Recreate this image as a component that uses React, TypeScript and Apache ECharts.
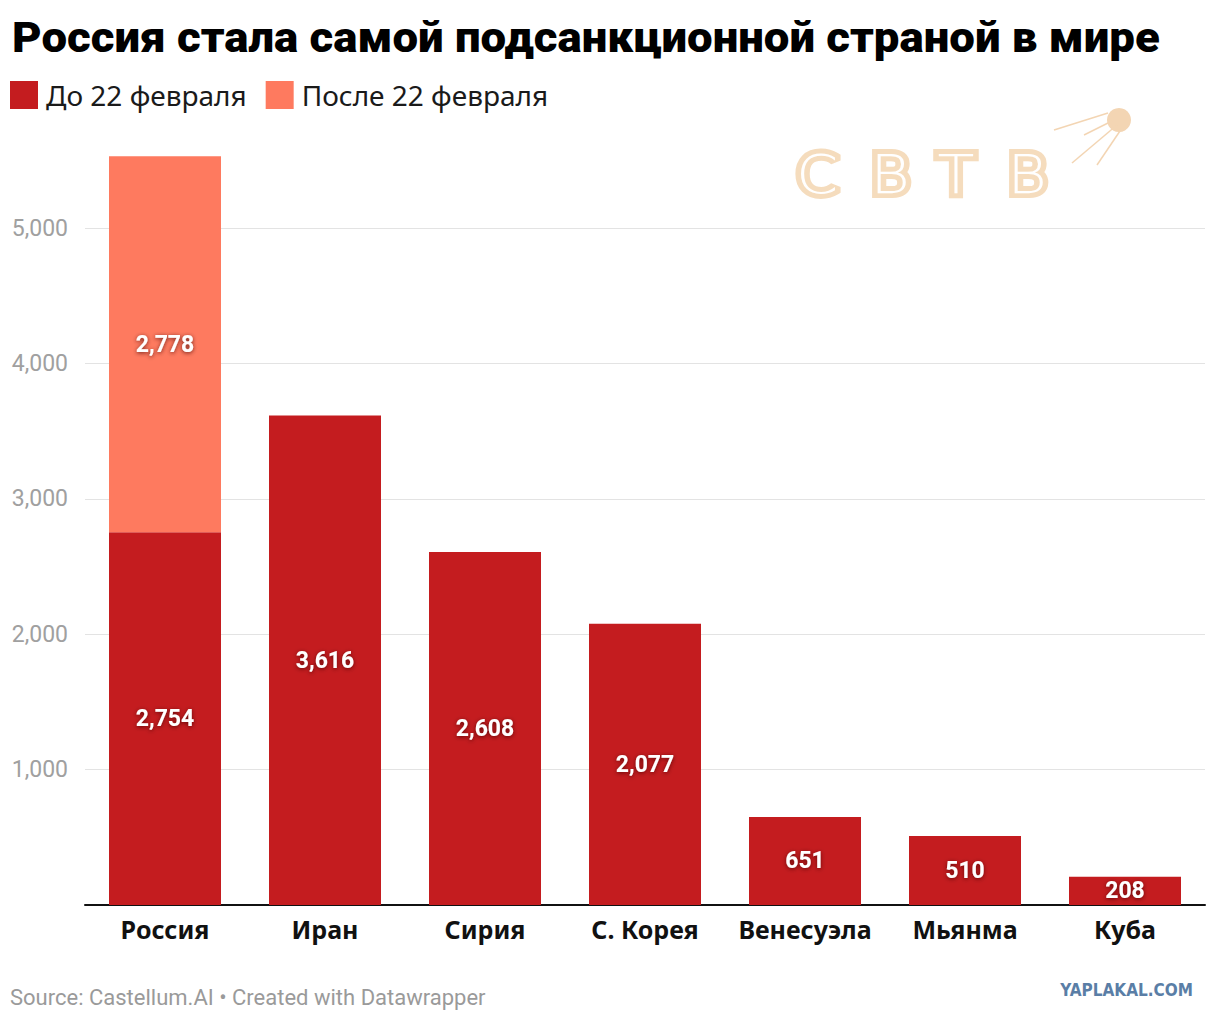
import React, { useEffect, useRef } from "react";
import * as echarts from "echarts";

const categories = ["Россия", "Иран", "Сирия", "С. Корея", "Венесуэла", "Мьянма", "Куба"];
const beforeValues = [2754, 3616, 2608, 2077, 651, 510, 208];
const afterValues: (number | string)[] = [2778, "-", "-", "-", "-", "-", "-"];
const legendNames = ["До 22 февраля", "После 22 февраля"];
const titleText = "Россия стала самой подсанкционной страной в мире";
const sourceText = "Source: Castellum.AI • Created with Datawrapper";
const siteText = "YAPLAKAL.COM";
const logoLetters = ["С", "В", "Т", "В"];

const DARK = "#c41c1f";
const LIGHT = "#fe7a5f";
const BEIGE = "#f5dcbd";

const fmt = (v: number) => Number(v).toLocaleString("en-US");

const valueLabel = {
  show: true,
  position: "inside",
  color: "#ffffff",
  fontSize: 23,
  fontWeight: "bold",
  fontFamily: "Roboto",
  textShadowColor: "rgba(60,0,0,0.75)",
  textShadowBlur: 4,
  textShadowOffsetY: 1,
  formatter: (p: any) => fmt(p.value),
};

const logoCenters = [817, 890, 956, 1027];

function buildGraphic() {
  const g: any[] = [];
  g.push({
    type: "text",
    x: 12,
    y: 38,
    scaleX: 1.085,
    style: {
      text: titleText,
      fontFamily: "Roboto",
      fontWeight: 900,
      fontSize: 42,
      fill: "#000",
      textVerticalAlign: "middle",
    },
  });
  g.push({
    type: "text",
    x: 10,
    y: 997,
    style: {
      text: sourceText,
      fontFamily: "Roboto",
      fontSize: 22,
      fill: "#9a9a9a",
      textVerticalAlign: "middle",
    },
  });
  g.push({
    type: "text",
    x: 1193,
    y: 990,
    style: {
      text: siteText,
      fontFamily: "Liberation Sans Narrow, DejaVu Sans Condensed, sans-serif",
      fontWeight: "bold",
      fontSize: 17,
      fill: "#5a7ea6",
      textAlign: "right",
      textVerticalAlign: "middle",
    },
  });
  logoLetters.forEach((ch, i) => {
    g.push({
      type: "text",
      x: logoCenters[i],
      y: 175,
      z: 1,
      scaleX: 1.12,
      style: {
        text: ch,
        fontFamily: "DejaVu Sans",
        fontWeight: 200,
        fontSize: 54,
        fill: BEIGE,
        stroke: BEIGE,
        lineWidth: 10,
        textAlign: "center",
        textVerticalAlign: "middle",
      },
    });
    g.push({
      type: "text",
      x: logoCenters[i],
      y: 175,
      z: 2,
      scaleX: 1.12,
      style: {
        text: ch,
        fontFamily: "DejaVu Sans",
        fontWeight: 200,
        fontSize: 54,
        fill: "#ffffff",
        textAlign: "center",
        textVerticalAlign: "middle",
      },
    });
  });
  g.push({ type: "circle", shape: { cx: 1119, cy: 120, r: 12 }, style: { fill: "#f3d5b3" } });
  const ant = [
    [1108, 113, 1054, 130],
    [1112, 121, 1084, 135],
    [1117, 125, 1072, 163],
    [1122, 128, 1097, 165],
  ];
  ant.forEach(([x1, y1, x2, y2]) =>
    g.push({
      type: "line",
      shape: { x1, y1, x2, y2 },
      style: { stroke: "#f3d5b3", lineWidth: 1.5 },
    })
  );
  return g;
}

export default function App() {
  const ref = useRef<HTMLDivElement>(null);
  useEffect(() => {
    document.body.style.margin = "0";
    const chart = echarts.init(ref.current!, null, { renderer: "svg" });
    chart.setOption({
      animation: false,
      backgroundColor: "#ffffff",
      legend: {
        data: legendNames,
        left: 10,
        top: 81,
        padding: 0,
        icon: "rect",
        itemWidth: 28,
        itemHeight: 28,
        itemGap: 19,
        textStyle: {
          fontFamily: "Noto Sans",
          fontSize: 28,
          color: "#1a1a1a",
          padding: [0, 0, 0, 3],
        },
      },
      grid: { left: 85, right: 15, top: 147, height: 758 },
      xAxis: {
        type: "category",
        data: categories,
        axisLine: { lineStyle: { color: "#111", width: 2 } },
        axisTick: { show: false },
        axisLabel: {
          interval: 0,
          fontFamily: "Noto Sans",
          fontWeight: "bold",
          fontSize: 25,
          color: "#111",
          margin: 11,
        },
      },
      yAxis: {
        type: "value",
        min: 0,
        max: 5600,
        interval: 1000,
        axisLine: { show: false },
        axisTick: { show: false },
        splitLine: {
          show: true,
          showMaxLine: false,
          lineStyle: { color: "#e3e3e3", width: 1 },
        },
        axisLabel: {
          showMaxLabel: false,
          showMinLabel: false,
          margin: 17,
          fontFamily: "Roboto",
          fontSize: 23,
          color: "#a0a0a0",
          formatter: (v: number) => (v % 1000 === 0 && v > 0 ? fmt(v) : ""),
        },
      },
      series: [
        {
          name: legendNames[0],
          type: "bar",
          stack: "total",
          barWidth: 112,
          data: beforeValues,
          itemStyle: { color: DARK },
          label: valueLabel,
          z: 3,
        },
        {
          name: legendNames[1],
          type: "bar",
          stack: "total",
          barWidth: 112,
          data: afterValues,
          itemStyle: { color: LIGHT },
          label: valueLabel,
          z: 3,
        },
      ],
      graphic: buildGraphic(),
    });
    return () => chart.dispose();
  }, []);
  return <div ref={ref} style={{ width: 1220, height: 1020 }} />;
}
